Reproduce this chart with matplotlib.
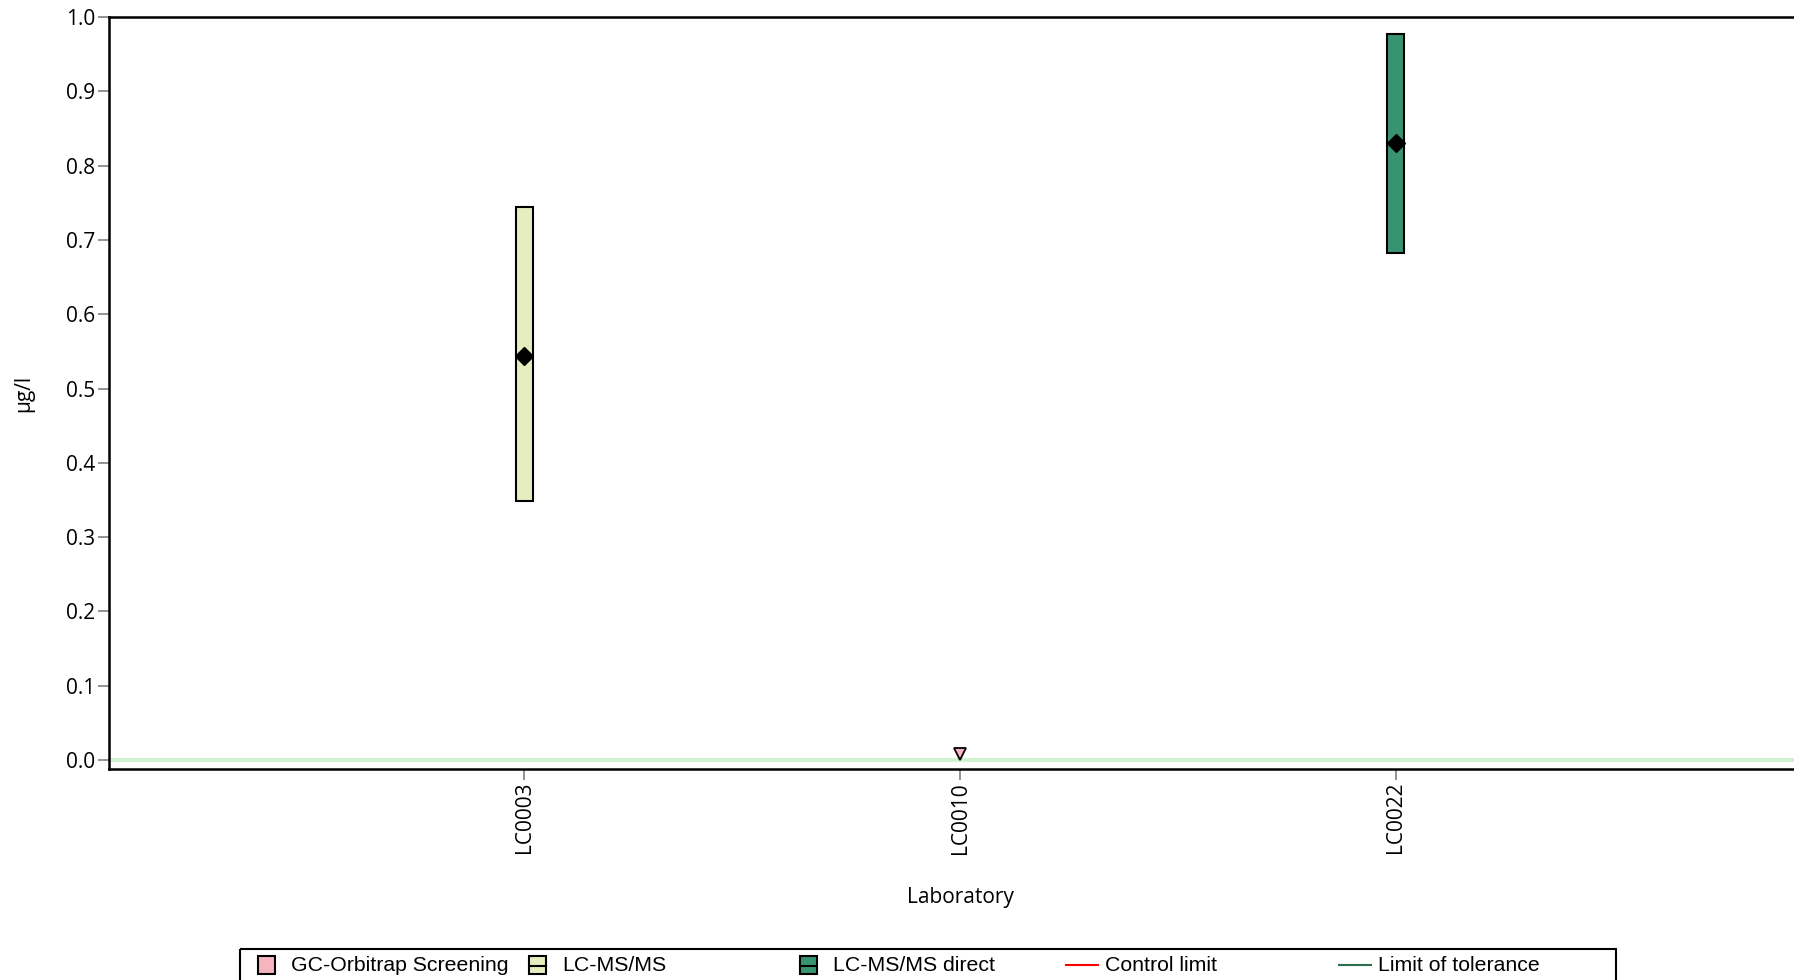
import numpy as np
import matplotlib
matplotlib.use("Agg")
import matplotlib.pyplot as plt
from matplotlib.patches import Rectangle
from matplotlib.lines import Line2D

# data
labs = ["LC0003", "LC0010", "LC0022"]
methods = ["LC-MS/MS", "GC-Orbitrap Screening", "LC-MS/MS direct"]
means = [0.544, np.nan, 0.831]
lower = [0.349, np.nan, 0.683]
upper = [0.744, np.nan, 0.978]
below_loq = [np.nan, 0.008, np.nan]   # reported "<" value, drawn as triangle
assigned = 0.0

method_colors = {
    "GC-Orbitrap Screening": "#f8b4be",
    "LC-MS/MS": "#e6eec0",
    "LC-MS/MS direct": "#389470",
}
legend_labels = ["GC-Orbitrap Screening", "LC-MS/MS", "LC-MS/MS direct",
                 "Control limit", "Limit of tolerance"]

W, H, dpi = 1794, 980, 100
fig = plt.figure(figsize=(W / dpi, H / dpi), dpi=dpi)
ax = fig.add_axes([108.7 / W, (H - 768.8) / H, 1702.6 / W, (768.8 - 17.2) / H])

tick_font = "Open Sans"
x = np.arange(len(labs))

ax.axhline(assigned, color="#cdf3d0", lw=2.8, zorder=1)

for xi, m, lo, hi, mu, lq in zip(x, methods, lower, upper, means, below_loq):
    c = method_colors[m]
    if not np.isnan(mu):
        ax.bar(xi, hi - lo, bottom=lo, width=0.039, color=c,
               edgecolor="black", linewidth=1.5, zorder=3)
        ax.plot(xi, mu, marker="D", color="black", markersize=9,
                linestyle="none", zorder=4)
    if not np.isnan(lq):
        ax.plot(xi, lq, marker="v", markerfacecolor=c, markeredgecolor="black",
                markeredgewidth=1.3, markersize=8, linestyle="none", zorder=4)

ax.set_xlim(-0.953, 2.953)
ax.set_ylim(-0.012, 1.0)
ax.set_yticks(np.arange(0, 1.01, 0.1))
ax.set_yticklabels([f"{v:.1f}" for v in np.arange(0, 1.01, 0.1)],
                   fontfamily=tick_font, fontsize=15)
ax.set_xticks(x)
ax.set_xticklabels(labs, rotation=90, fontfamily=tick_font, fontsize=15)
ax.tick_params(axis="both", color="#808080", width=1.2, length=8, pad=1.5)

for s in ["left", "bottom", "top", "right"]:
    ax.spines[s].set_linewidth(1.8)
    ax.spines[s].set_color("black")

ax.set_ylabel("µg/l", fontfamily=tick_font, fontsize=15, labelpad=23)
ax.set_xlabel("Laboratory", fontfamily=tick_font, fontsize=15, labelpad=24)

# legend drawn by hand in pixel coordinates (equal column spacing)
lax = fig.add_axes([0, 0, 1, 1])
lax.set_xlim(0, W)
lax.set_ylim(H, 0)
lax.axis("off")
lax.add_patch(Rectangle((240.3, 948.5), 1615.5 - 240.3, 60, fill=False,
                        edgecolor="black", linewidth=1.5, clip_on=False))
col_x = [258, 529, 800, 1066, 1339]
ly = 965
for i, (lbl, cx) in enumerate(zip(legend_labels, col_x)):
    if lbl in method_colors:
        lax.add_patch(Rectangle((cx, ly - 9), 17, 18, facecolor=method_colors[lbl],
                                edgecolor="black", linewidth=1.5))
        if lbl != "GC-Orbitrap Screening":
            lax.add_line(Line2D([cx, cx + 17], [ly + 1, ly + 1], color="black", lw=1.5))
        tx = cx + 33
    else:
        lc = "#ff0000" if lbl == "Control limit" else "#2d6e4f"
        lax.add_line(Line2D([cx, cx + 32], [ly, ly], color=lc, lw=1.5))
        tx = cx + 39
    lax.text(tx, ly, lbl, fontfamily="Liberation Sans", fontsize=15.3,
             va="center", ha="left")

fig.savefig("out.png", dpi=dpi)
